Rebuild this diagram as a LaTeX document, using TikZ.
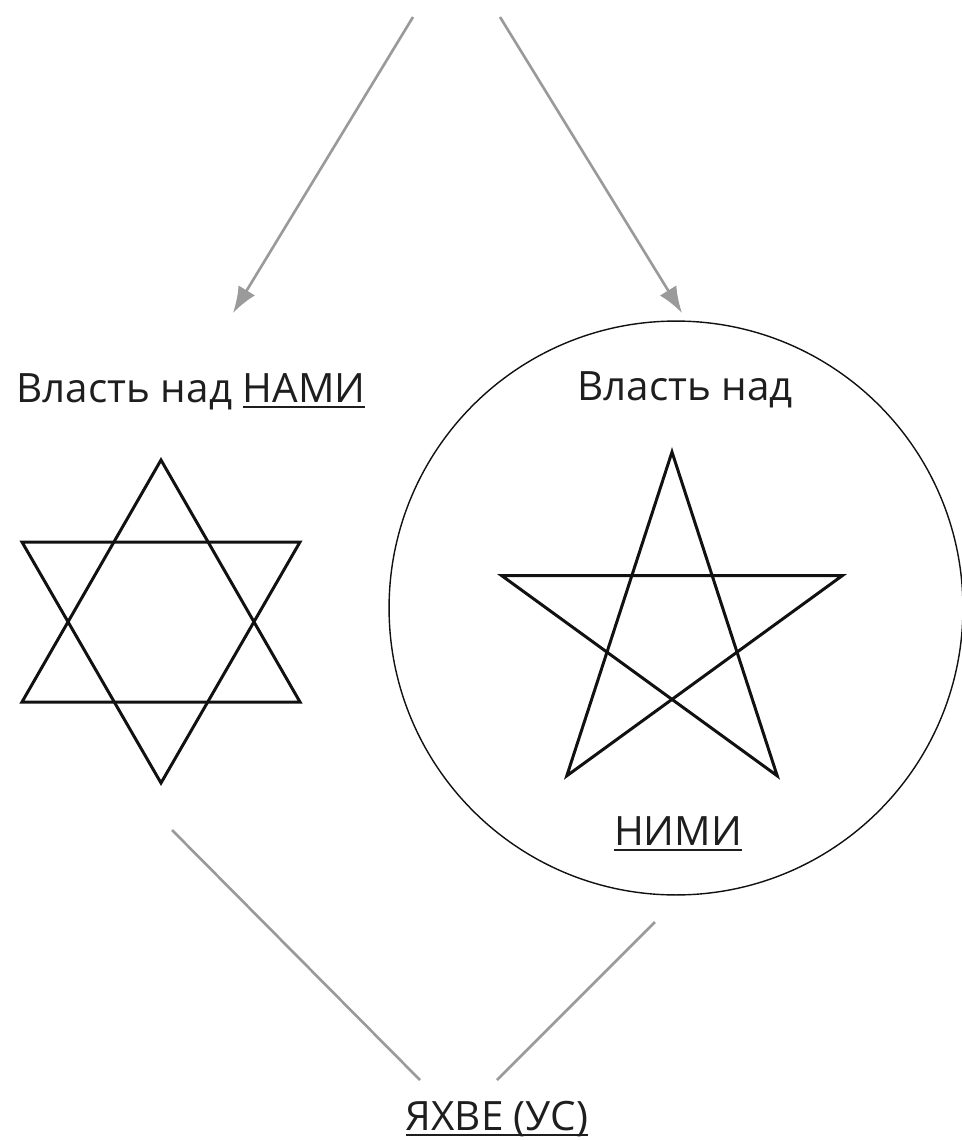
\documentclass[tikz,border=0pt]{standalone}
\usepackage{fontspec}
\setmainfont{Open Sans}
\usepackage{xcolor}
\definecolor{ykink}{HTML}{111111}
\definecolor{ykgrey}{HTML}{9A9A9A}
\definecolor{yktext}{HTML}{1E1E1E}
\usepackage{tikz}
\usetikzlibrary{arrows.meta,positioning,calc}
% underline at a fixed depth below the baseline
\newcommand\ykul[1]{\setbox0\hbox{#1}\rlap{\rule[-3.4pt]{\wd0}{1.1pt}}\box0}
\tikzset{
  ykstar/.style  ={draw=ykink, line width=1.7pt, line join=miter},
  ykring/.style  ={circle, draw=ykink, line width=0.8pt, inner sep=0pt,
                   minimum size=11.48cm},
  yklbl/.style   ={font=\fontsize{23}{27}\selectfont, text=yktext, anchor=base,
                   inner sep=0pt},
  ykarrow/.style ={-{Latex[length=15pt,width=11pt]}, line width=1.5pt, draw=ykgrey},
  ykline/.style  ={line width=1.5pt, draw=ykgrey},
}

\begin{document}
\begin{tikzpicture}[x=0.02cm, y=-0.02cm]
  \useasboundingbox (0,0) rectangle (961,1140);

  % arrows coming down from the (cut off) heading
  \coordinate (srcL) at (413,17);
  \coordinate (srcR) at (500,17);
  \coordinate (tipL) at (233,313);
  \coordinate (tipR) at (682,313);
  \draw[ykarrow] (srcL) -- (tipL);
  \draw[ykarrow] (srcR) -- (tipR);

  % left: power over us
  \node[yklbl] (overus) at (191,402) {Власть над \ykul{НАМИ}};
  \foreach \ya/\yb in {460/702, 783/542}{
    \draw[ykstar] (161,\ya) -- (22,\yb) -- (300,\yb) -- cycle;
  }

  % right: power over them
  \node[ykring] (ring) at (676,608) {};
  \node[yklbl] (overthem) at (685,400) {Власть над};
  \draw[ykstar] (672,452) -- (777.2,775.8) -- (501.8,575.7)
    -- (842.2,575.7) -- (566.8,775.8) -- cycle;
  \node[yklbl] (them) at (678,845) {\ykul{НИМИ}};

  % both lead down to the root
  \node[yklbl] (yahve) at (497,1130) {\ykul{ЯХВЕ (УС)}};
  \coordinate (fromL) at (172,830);
  \coordinate (fromR) at (655,922);
  \coordinate (toL) at (420,1080);
  \coordinate (toR) at (497,1080);
  \draw[ykline] (fromL) -- (toL);
  \draw[ykline] (fromR) -- (toR);
\end{tikzpicture}
\end{document}
